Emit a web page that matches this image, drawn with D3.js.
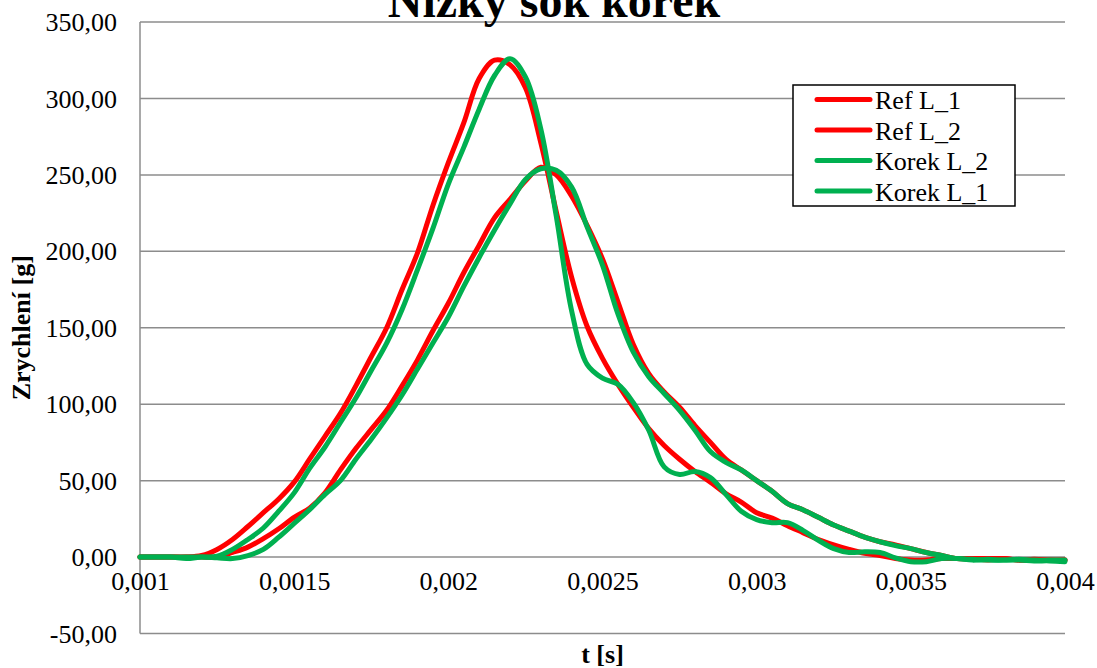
<!DOCTYPE html>
<html>
<head>
<meta charset="utf-8">
<script src="https://cdn.jsdelivr.net/npm/d3@7"></script>
<style>
  html, body { margin: 0; padding: 0; background: #fff; }
  svg { display: block; }
  text { font-family: "Liberation Serif", "Times New Roman", serif; fill: #000; }
</style>
</head>
<body>
<svg id="chart" width="1097" height="668"></svg>
<script>
// Time samples [s], shared by all four series
const time = d3.range(61).map(i => +(0.001 + i * 0.00005).toFixed(6));

// Acceleration [g] per series
const refL1 = [
  0, 0, 0, 0, 1, 5, 11.5, 20, 29, 38,
  49, 64, 79, 94, 112, 131, 150, 175, 199, 230,
  258, 284, 313, 325, 322, 307, 271, 226, 183, 151,
  130, 113, 98, 84, 73, 64, 56, 49, 41.5, 36,
  29, 25.5, 20.5, 16, 11.5, 8, 5, 2.5, 1, -1,
  -2, -2, -1, -1, -1, -2, -1, -2, -2, -2, -2
];
const refL2 = [
  0, 0, 0, 0, 0, 0, 3, 6.5, 12, 18.5,
  26, 32, 42, 57, 71, 83.5, 96, 112, 129, 148,
  166, 186, 204, 222, 234, 246, 255, 250, 236, 217,
  195, 167, 139, 120, 108, 98, 86, 75, 64, 57,
  50, 43, 35, 31, 26, 21, 17, 13, 10, 8,
  5.5, 3, 1, -1, -1, -1, -1, -2, -1.5, -2, -2
];
const korekL2 = [
  0, 0, 0, -1, 0, 0.5, 5, 11.5, 19, 30,
  42, 58, 72, 88, 104, 122, 140, 162, 188, 215,
  244, 268, 293, 315, 326, 314, 280, 223, 161, 126,
  117, 113, 101, 83, 59, 54, 56, 52, 41, 30,
  24.5, 22.5, 22.5, 17.5, 11, 5.5, 3, 3.5, 3, -0.5,
  -3, -3, -1, -1, -2, -1.5, -2, -1.5, -2, -2, -2
];
const korekL1 = [
  0, 0, 0, 0, 0, -0.5, -1, 1, 5, 13,
  22, 31, 41, 50, 64, 77, 91, 106, 123, 140,
  157, 177, 196, 214, 231, 247, 254, 253, 242, 216,
  191, 159, 134, 118, 107, 96, 83, 69, 62, 57,
  50, 43, 35, 31, 26, 21, 17, 13, 10, 7.5,
  5.5, 3, 1, -1, -1.5, -2, -2, -2, -2.5, -2.5, -3
];

const seriesNames = ["Ref L_1", "Ref L_2", "Korek L_2", "Korek L_1"];
const seriesValues = [refL1, refL2, korekL2, korekL1];
const seriesColors = ["#FF0000", "#FF0000", "#00B050", "#00B050"];

const xTicks = [0.001, 0.0015, 0.002, 0.0025, 0.003, 0.0035, 0.004];
const xTickLabels = ["0,001", "0,0015", "0,002", "0,0025", "0,003", "0,0035", "0,004"];
const yTicks = [-50, 0, 50, 100, 150, 200, 250, 300, 350];
const yTickLabels = ["-50,00", "0,00", "50,00", "100,00", "150,00", "200,00", "250,00", "300,00", "350,00"];

const titleText = "Nízký šok korek";
const xTitle = "t [s]";
const yTitle = "Zrychlení [g]";

// Layout
const plot = { left: 140, right: 1065, top: 22, bottom: 633.5 };
const gridColor = "#8c8c8c";

const svg = d3.select("#chart");

const x = d3.scaleLinear().domain([0.001, 0.004]).range([plot.left, plot.right]);
const y = d3.scaleLinear().domain([-50, 350]).range([plot.bottom, plot.top]);

// Horizontal gridlines
svg.append("g")
  .selectAll("line")
  .data(yTicks)
  .join("line")
  .attr("x1", plot.left).attr("x2", plot.right)
  .attr("y1", d => y(d)).attr("y2", d => y(d))
  .attr("stroke", gridColor).attr("stroke-width", 1.5);

// Vertical axis line
svg.append("line")
  .attr("x1", plot.left).attr("x2", plot.left)
  .attr("y1", plot.top).attr("y2", plot.bottom)
  .attr("stroke", gridColor).attr("stroke-width", 1.5);

// Y tick labels
const yAxis = d3.axisLeft(y).tickValues(yTicks)
  .tickFormat((d, i) => yTickLabels[i]).tickSize(0).tickPadding(23);
const gy = svg.append("g").attr("transform", `translate(${plot.left},0)`).call(yAxis);
gy.select(".domain").remove();
gy.selectAll("text")
  .style("font-family", '"Liberation Serif", "Times New Roman", serif')
  .style("font-size", "26px").attr("fill", "#000").attr("dy", "0.33em");

// X tick labels, sitting below the zero line
const xAxis = d3.axisBottom(x).tickValues(xTicks)
  .tickFormat((d, i) => xTickLabels[i]).tickSize(0).tickPadding(20);
const gx = svg.append("g").attr("transform", `translate(0,${y(0)})`).call(xAxis);
gx.select(".domain").remove();
gx.selectAll("text")
  .style("font-family", '"Liberation Serif", "Times New Roman", serif')
  .style("font-size", "26px").attr("fill", "#000").attr("dy", "0.5em");

// Series lines
const line = d3.line()
  .x((d, i) => x(time[i]))
  .y(d => y(d))
  .curve(d3.curveCatmullRom.alpha(0.5));

svg.append("g")
  .selectAll("path")
  .data(seriesValues)
  .join("path")
  .attr("d", d => line(d))
  .attr("fill", "none")
  .attr("stroke", (d, i) => seriesColors[i])
  .attr("stroke-width", 5)
  .attr("stroke-linejoin", "round")
  .attr("stroke-linecap", "round");

// Title (runs past the top edge of the canvas)
svg.append("text")
  .attr("x", 554).attr("y", 17)
  .attr("text-anchor", "middle")
  .style("font-size", "48px").style("font-weight", "bold")
  .text(titleText);

// Axis titles
svg.append("text")
  .attr("x", (plot.left + plot.right) / 2).attr("y", 663)
  .attr("text-anchor", "middle")
  .style("font-size", "26px").style("font-weight", "bold")
  .text(xTitle);

svg.append("text")
  .attr("transform", `translate(30,${(plot.top + plot.bottom) / 2}) rotate(-90)`)
  .attr("text-anchor", "middle")
  .style("font-size", "26px").style("font-weight", "bold")
  .text(yTitle);

// Legend
const legend = svg.append("g");
legend.append("rect")
  .attr("x", 793).attr("y", 85).attr("width", 222).attr("height", 121)
  .attr("fill", "#fff").attr("stroke", "#000").attr("stroke-width", 1.5);

const rowY = d3.scalePoint().domain(seriesNames).range([99.5, 191]);
const rows = legend.selectAll("g.row")
  .data(seriesNames)
  .join("g").attr("class", "row")
  .attr("transform", d => `translate(0,${rowY(d)})`);
rows.append("line")
  .attr("x1", 817).attr("x2", 870).attr("y1", 0).attr("y2", 0)
  .attr("stroke", (d, i) => seriesColors[i])
  .attr("stroke-width", 5).attr("stroke-linecap", "round");
rows.append("text")
  .attr("x", 875).attr("y", 9.5)
  .style("font-size", "26px")
  .text(d => d);
</script>
</body>
</html>
